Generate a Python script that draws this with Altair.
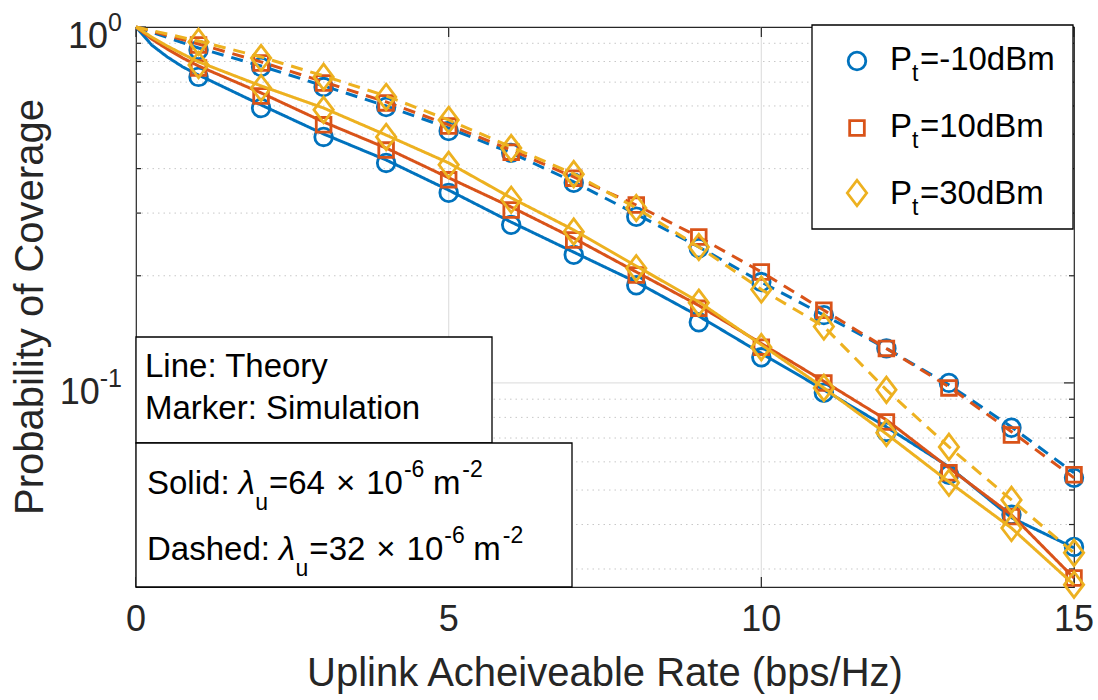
import altair as alt
import pandas as pd

# ------------------------------------------------------------------ data
rate_sim = list(range(1, 16))
rate_theory_solid = [0, 0.25, 0.5, 0.75] + list(range(1, 16))
rate_theory_dashed = [0] + list(range(1, 16))

series_names = ["P_t=-10dBm", "P_t=10dBm", "P_t=30dBm"]

theory_solid_m10 = [1.0, 0.890, 0.824, 0.772, 0.733, 0.604, 0.5005, 0.423, 0.348, 0.283, 0.233,
                    0.192, 0.154, 0.121, 0.0956, 0.0752, 0.0581, 0.0418, 0.0344]
theory_solid_10 = [1.0, 0.925, 0.867, 0.818, 0.777, 0.653, 0.541, 0.457, 0.377, 0.312, 0.255,
                   0.205, 0.165, 0.129, 0.101, 0.0787, 0.0577, 0.0426, 0.0283]
theory_solid_30 = [1.0, 0.937, 0.884, 0.839, 0.798, 0.683, 0.592, 0.497, 0.415, 0.331, 0.269,
                   0.213, 0.169, 0.128, 0.0968, 0.0719, 0.0527, 0.0391, 0.0271]
theory_dashed_m10 = [1.0, 0.873, 0.777, 0.683, 0.600, 0.520, 0.443, 0.367, 0.298, 0.241,
                     0.192, 0.155, 0.125, 0.0987, 0.0752, 0.0559]
theory_dashed_10 = [1.0, 0.896, 0.798, 0.701, 0.616, 0.531, 0.451, 0.379, 0.316, 0.257,
                    0.205, 0.160, 0.125, 0.0975, 0.0729, 0.0541]
theory_dashed_30 = [1.0, 0.913, 0.824, 0.729, 0.640, 0.548, 0.460, 0.387, 0.310, 0.241,
                    0.183, 0.144, 0.0956, 0.0661, 0.0469, 0.0333]

sim_solid_m10 = [0.724, 0.592, 0.491, 0.415, 0.342, 0.278, 0.229, 0.188, 0.148, 0.118,
                 0.0938, 0.0728, 0.0552, 0.0426, 0.0346]
sim_solid_10 = [0.767, 0.640, 0.531, 0.451, 0.372, 0.306, 0.252, 0.201, 0.162, 0.126,
                0.100, 0.0777, 0.0559, 0.0421, 0.0283]
sim_solid_30 = [0.782, 0.674, 0.585, 0.491, 0.410, 0.327, 0.266, 0.210, 0.168, 0.126,
                0.0968, 0.0724, 0.0524, 0.0391, 0.0271]
sim_dashed_m10 = [0.862, 0.772, 0.678, 0.596, 0.510, 0.443, 0.365, 0.293, 0.239, 0.192,
                  0.155, 0.125, 0.100, 0.0748, 0.0541]
sim_dashed_10 = [0.890, 0.792, 0.696, 0.612, 0.527, 0.445, 0.376, 0.316, 0.257, 0.205,
                 0.160, 0.125, 0.0968, 0.0714, 0.0552]
sim_dashed_30 = [0.908, 0.818, 0.724, 0.636, 0.548, 0.457, 0.386, 0.310, 0.241, 0.183,
                 0.144, 0.0956, 0.0661, 0.0469, 0.0333]

x_tick_values = [0, 5, 10, 15]
x_tick_labels = ["0", "5", "10", "15"]
x_grid_values = [5, 10]
y_major_values = [1.0, 0.1]
y_major_exponents = ["0", "-1"]
y_minor_values = [0.03, 0.04, 0.05, 0.06, 0.07, 0.08, 0.09,
                  0.2, 0.3, 0.4, 0.5, 0.6, 0.7, 0.8, 0.9]

x_title = "Uplink Acheiveable Rate (bps/Hz)"
y_title = "Probability of Coverage"
legend_values = ["=-10dBm", "=10dBm", "=30dBm"]

# ------------------------------------------------------------------ style
FONT = "Liberation Sans"
AX = "#262626"
COLORS = ["#0072BD", "#D95319", "#EDB120"]
SHAPES = ["circle", "square", "M0,-1L0.76,0L0,1L-0.76,0Z"]
SIZES = [310, 215, 650]
W, H = 938, 560
L0, T0 = 136, 27
LW = 3.0
MW = 2.8

xs = alt.Scale(domain=[0, 15], nice=False, zero=False)
ys = alt.Scale(type="log", domain=[0.0267, 1], nice=False)
dash_scale = alt.Scale(domain=["solid", "dashed"], range=[[1, 0], [12, 8]])
dummy = pd.DataFrame({"d": [0]})


def X(f="x"):
    return alt.X(f"{f}:Q", scale=xs, axis=None)


def Y(f="y"):
    return alt.Y(f"{f}:Q", scale=ys, axis=None)


CW = {' ': 278, 'S': 667, 'o': 556, 'l': 222, 'i': 222, 'd': 556, ':': 278, 'D': 722,
      'a': 556, 's': 500, 'h': 556, 'e': 556, '=': 584, '6': 556, '4': 556, '3': 556,
      '2': 556, '1': 556, '0': 556, '-': 333, 'm': 833, '\u00d7': 584, '\u03bb': 500,
      'u': 556, 'P': 667, 't': 278, 'B': 667}


def tw(s, size):
    return sum(CW.get(c, 556) for c in s) / 1000.0 * size


def text_layer(txt, sx, sy, size, color="black", align="left", italic=False):
    mk = dict(align=align, baseline="middle", font=FONT, fontSize=size, color=color)
    if italic:
        mk["fontStyle"] = "italic"
    return alt.Chart(dummy).mark_text(**mk).encode(
        x=alt.value(sx - L0), y=alt.value(sy - T0 + 0.058 * size), text=alt.value(txt))


def runs(x_start, y_center, items, color="black"):
    out = []
    x = x_start
    for txt, size, dy, gap, italic in items:
        x += gap
        out.append(text_layer(txt, x, y_center + dy, size, color, italic=italic))
        x += tw(txt, size)
    return out


def rect(x1, x2, y1, y2):
    return alt.Chart(dummy).mark_rect(fill="white", stroke="black", strokeWidth=1.3).encode(
        x=alt.value(x1 - L0), x2=alt.value(x2 - L0), y=alt.value(y1 - T0), y2=alt.value(y2 - T0))


layers = []

# grid
layers.append(alt.Chart(pd.DataFrame({"y": y_minor_values})).mark_rule(
    color="#c8c8c8", strokeWidth=1, strokeDash=[1.5, 4]).encode(
    y=Y(), x=alt.value(0), x2=alt.value(W)))
layers.append(alt.Chart(pd.DataFrame({"y": [0.1]})).mark_rule(
    color="#e2e2e2", strokeWidth=1.3).encode(y=Y(), x=alt.value(0), x2=alt.value(W)))
layers.append(alt.Chart(pd.DataFrame({"x": x_grid_values})).mark_rule(
    color="#e2e2e2", strokeWidth=1.3).encode(x=X(), y=alt.value(0), y2=alt.value(H)))

# inward ticks
minor_df = pd.DataFrame({"y": y_minor_values})
major_df = pd.DataFrame({"y": y_major_values})
xt_df = pd.DataFrame({"x": x_tick_values})
for df, ln in ((minor_df, 5), (major_df, 10)):
    layers.append(alt.Chart(df).mark_rule(color=AX, strokeWidth=1.2).encode(
        y=Y(), x=alt.value(0), x2=alt.value(ln)))
    layers.append(alt.Chart(df).mark_rule(color=AX, strokeWidth=1.2).encode(
        y=Y(), x=alt.value(W), x2=alt.value(W - ln)))
layers.append(alt.Chart(xt_df).mark_rule(color=AX, strokeWidth=1.2).encode(
    x=X(), y=alt.value(H), y2=alt.value(H - 10)))
layers.append(alt.Chart(xt_df).mark_rule(color=AX, strokeWidth=1.2).encode(
    x=X(), y=alt.value(0), y2=alt.value(10)))

# data
theory_solid = [theory_solid_m10, theory_solid_10, theory_solid_30]
theory_dashed = [theory_dashed_m10, theory_dashed_10, theory_dashed_30]
sim_solid = [sim_solid_m10, sim_solid_10, sim_solid_30]
sim_dashed = [sim_dashed_m10, sim_dashed_10, sim_dashed_30]

for i, name in enumerate(series_names):
    line_df = pd.concat([
        pd.DataFrame({"x": rate_theory_solid, "y": theory_solid[i], "dens": "solid"}),
        pd.DataFrame({"x": rate_theory_dashed, "y": theory_dashed[i], "dens": "dashed"}),
    ], ignore_index=True)
    layers.append(alt.Chart(line_df).mark_line(
        color=COLORS[i], strokeWidth=LW, strokeJoin="round").encode(
        x=X(), y=Y(),
        strokeDash=alt.StrokeDash("dens:N", scale=dash_scale, legend=None),
        detail="dens:N", order=alt.Order("x:Q")))
    pt_df = pd.concat([
        pd.DataFrame({"x": rate_sim, "y": sim_solid[i]}),
        pd.DataFrame({"x": rate_sim, "y": sim_dashed[i]}),
    ], ignore_index=True)
    layers.append(alt.Chart(pt_df).mark_point(
        shape=SHAPES[i], size=SIZES[i], filled=False, color=COLORS[i],
        strokeWidth=MW, opacity=1).encode(x=X(), y=Y()))

# x tick labels
layers.append(alt.Chart(pd.DataFrame({"x": x_tick_values, "lab": x_tick_labels})).mark_text(
    align="center", baseline="middle", font=FONT, fontSize=36, color=AX).encode(
    x=X(), y=alt.value(593), text="lab:N"))

# y tick labels  10^e
for v, e in zip(y_major_values, y_major_exponents):
    sup_left = 122 - tw(e, 25)
    d = pd.DataFrame({"y": [v], "b": ["10"], "e": [e]})
    layers.append(alt.Chart(d).mark_text(
        align="right", baseline="middle", font=FONT, fontSize=36, color=AX, dy=10).encode(
        y=Y(), x=alt.value(sup_left - L0), text="b:N"))
    layers.append(alt.Chart(d).mark_text(
        align="left", baseline="middle", font=FONT, fontSize=25, color=AX, dy=-4).encode(
        y=Y(), x=alt.value(sup_left - L0), text="e:N"))

# axis titles
layers.append(text_layer(x_title, 605, 672, 40, AX, align="center"))
layers.append(alt.Chart(dummy).mark_text(
    angle=270, align="center", baseline="middle", font=FONT, fontSize=40, color=AX).encode(
    x=alt.value(31 - L0), y=alt.value(307 - T0), text=alt.value(y_title)))

# legend box
layers.append(rect(812, 1073, 25, 229))
leg_marker_y = [61, 128, 193]
leg_text_y = [58, 125, 192]
for i in range(3):
    layers.append(alt.Chart(dummy).mark_point(
        shape=SHAPES[i], size=SIZES[i], filled=False, color=COLORS[i],
        strokeWidth=MW, opacity=1).encode(
        x=alt.value(857 - L0), y=alt.value(leg_marker_y[i] - T0)))
    layers += runs(890, leg_text_y[i], [
        ("P", 33, 0, 0, False),
        ("t", 23, 15, 0, False),
        (legend_values[i], 33, 0, 1.5, False),
    ])

# annotation boxes
layers.append(rect(136, 492, 337, 443))
layers.append(text_layer("Line: Theory", 145, 365, 33))
layers.append(text_layer("Marker: Simulation", 145, 407, 33))
layers.append(rect(136, 572, 443, 587))
for label, num, yc in (("Solid: ", "=64", 482), ("Dashed: ", "=32", 548)):
    layers += runs(147, yc, [
        (label, 33, 0, 0, False),
        ("\u03bb", 33, 0, 0, True),
        ("u", 23, 20, 0, False),
        (num, 33, 0, 1, False),
        ("\u00d7", 33, 0, 11, False),
        ("10", 33, 0, 11, False),
        ("-6", 23, -13, 1, False),
        ("m", 33, 0, 8.5, False),
        ("-2", 23, -13, 2, False),
    ])

chart = alt.layer(*layers).properties(
    width=W, height=H,
    padding={"left": L0, "top": T0, "right": 1098 - L0 - W, "bottom": 700 - T0 - H},
    autosize=alt.AutoSizeParams(type="none"),
    background="white",
).configure_view(stroke=AX, strokeWidth=1.2)

chart.save("out.html", embed_options={"renderer": "svg", "actions": False})
